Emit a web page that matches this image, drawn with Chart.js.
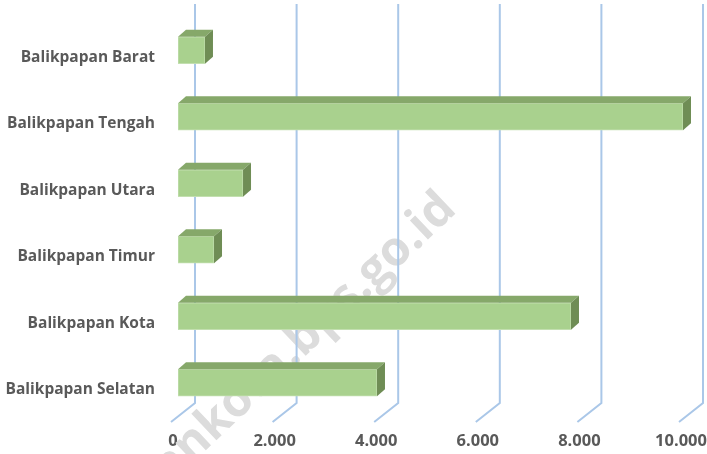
<!DOCTYPE html>
<html lang="id">
<head>
<meta charset="UTF-8">
<title>Kepadatan Penduduk Kota Balikpapan</title>
<script src="https://cdn.jsdelivr.net/npm/chart.js"></script>
<style>
    body {
        margin: 0;
        background: #ffffff;
    }
    canvas {
        display: block;
    }
</style>
</head>
<body>
<canvas id="chart" width="707" height="454"></canvas>
<script>
    // data (jiwa per km2)
    const kecamatan = ['Balikpapan Barat', 'Balikpapan Tengah', 'Balikpapan Utara',
                       'Balikpapan Timur', 'Balikpapan Kota', 'Balikpapan Selatan'];
    const kepadatan = [531, 9941, 1280, 709, 7736, 3917];
    const tickValues = [0, 2000, 4000, 6000, 8000, 10000];

    const wallDx = 17, wallDy = -13;   // back wall offset
    const floorDx = -7, floorDy = 6;   // front edge of floor
    const barDx = 8, barDy = 7;        // bar depth

    const fmt = v => String(v).replace(/\B(?=(\d{3})+(?!\d))/g, '.');

    const threeD = {
        id: 'threeD',
        beforeDatasetsDraw(chart) {
            const ctx = chart.ctx;
            const xs = chart.scales.x;
            const area = chart.chartArea;
            ctx.save();
            // watermark
            ctx.save();
            ctx.translate(458, 211);
            ctx.rotate(-43.5 * Math.PI / 180);
            ctx.font = 'bold 48px "Open Sans"';
            ctx.fillStyle = '#dcdcdc';
            ctx.textAlign = 'right';
            ctx.fillText('balikpapankota.bps.go.id', 0, 0);
            ctx.restore();
            // gridlines on back wall + floor
            ctx.strokeStyle = '#aac7e8';
            ctx.lineWidth = 2;
            tickValues.forEach(v => {
                const x = xs.getPixelForValue(v);
                ctx.beginPath();
                ctx.moveTo(x + wallDx, area.top + wallDy);
                ctx.lineTo(x + wallDx, area.bottom + wallDy);
                ctx.lineTo(x + floorDx, area.bottom + floorDy);
                ctx.stroke();
            });
            ctx.restore();
        },
        afterDatasetsDraw(chart) {
            const ctx = chart.ctx;
            const meta = chart.getDatasetMeta(0);
            ctx.save();
            meta.data.forEach(bar => {
                const p = bar.getProps(['x', 'y', 'base', 'height'], true);
                const top = p.y - p.height / 2;
                const bottom = p.y + p.height / 2;
                // top face
                ctx.fillStyle = '#86a86a';
                ctx.beginPath();
                ctx.moveTo(p.base, top);
                ctx.lineTo(p.x, top);
                ctx.lineTo(p.x + barDx, top - barDy);
                ctx.lineTo(p.base + barDx, top - barDy);
                ctx.closePath();
                ctx.fill();
                // side face
                ctx.fillStyle = '#6f8d55';
                ctx.beginPath();
                ctx.moveTo(p.x, top);
                ctx.lineTo(p.x + barDx, top - barDy);
                ctx.lineTo(p.x + barDx, bottom - barDy);
                ctx.lineTo(p.x, bottom);
                ctx.closePath();
                ctx.fill();
            });
            ctx.restore();
        }
    };

    new Chart(document.getElementById('chart'), {
        type: 'bar',
        data: {
            labels: kecamatan,
            datasets: [{
                data: kepadatan,
                backgroundColor: '#a9d18e',
                borderColor: '#c3dfb0',
                borderWidth: 1,
                borderSkipped: false,
                barThickness: 27
            }]
        },
        options: {
            indexAxis: 'y',
            responsive: false,
            animation: false,
            devicePixelRatio: 1,
            layout: { padding: { top: 17, right: 21, left: 0, bottom: 0 } },
            plugins: {
                legend: { display: false },
                tooltip: { enabled: false }
            },
            scales: {
                x: {
                    min: 0,
                    max: 10000,
                    afterBuildTicks: s => { s.ticks = tickValues.map(v => ({ value: v })); },
                    afterFit: s => {
                        s.height = 38;
                        s.paddingLeft = 0;
                        s.paddingRight = 0;
                    },
                    grid: { display: false, drawTicks: false },
                    border: { display: false },
                    ticks: {
                        callback: v => fmt(v),
                        color: '#595959',
                        font: { family: 'Open Sans', weight: 'bold', size: 16.5 },
                        padding: 15,
                        labelOffset: -5,
                        maxRotation: 0
                    }
                },
                y: {
                    afterFit: s => {
                        s.width = 178;
                        s.paddingTop = 0;
                        s.paddingBottom = 0;
                    },
                    grid: { display: false, drawTicks: false },
                    border: { display: false },
                    ticks: {
                        color: '#595959',
                        font: { family: 'Open Sans', weight: 'bold', size: 15.5 },
                        padding: 23,
                        labelOffset: 7
                    }
                }
            }
        },
        plugins: [threeD]
    });
</script>
</body>
</html>
